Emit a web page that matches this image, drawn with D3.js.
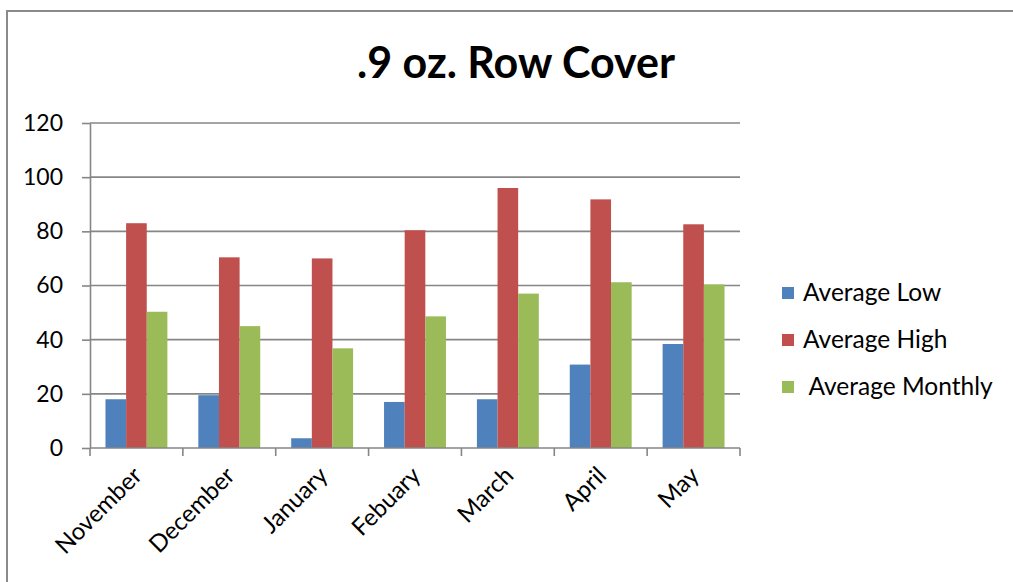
<!DOCTYPE html>
<html>
<head>
<meta charset="utf-8">
<script src="https://cdn.jsdelivr.net/npm/d3@7"></script>
<style>
  html, body { margin: 0; padding: 0; background: #fff; }
  svg { display: block; }
  text { font-family: Lato, "Open Sans", sans-serif; fill: #000; }
</style>
</head>
<body>
<svg id="chart" width="1013" height="582"></svg>
<script>
// Row cover temperature readings by month
const months = ["November", "December", "January", "Febuary", "March", "April", "May"];
const seriesNames = ["Average Low", "Average High", " Average Monthly"];
const averageLow = [18, 19.5, 3.6, 17, 18, 30.8, 38.4];
const averageHigh = [83, 70.4, 70, 80.4, 96, 91.8, 82.6];
const averageMonthly = [50.3, 45, 36.8, 48.6, 57, 61.2, 60.4];
const yTicks = [0, 20, 40, 60, 80, 100, 120];
const colors = ["#4F81BD", "#C0504D", "#9BBB59"];

const seriesValues = [averageLow, averageHigh, averageMonthly];
const rows = months.map((m, i) => ({
  month: m,
  values: seriesValues.map((vals, s) => ({ key: s, value: vals[i] }))
}));

const svg = d3.select("#chart");
const margin = { left: 90, right: 273, top: 123, bottom: 134 };
const W = 1013, H = 582;
const plotW = W - margin.left - margin.right;
const plotH = H - margin.top - margin.bottom;
const axisColor = "#868686";

// Outer chart frame
svg.append("path")
  .attr("d", `M7,${H + 5} L7,11 L${W + 5},11`)
  .attr("fill", "none")
  .attr("stroke", "#8a8a8a")
  .attr("stroke-width", 2);

// Title
svg.append("text")
  .attr("x", 516)
  .attr("y", 78)
  .attr("text-anchor", "middle")
  .style("font-size", "43px")
  .style("font-weight", "bold")
  .text(".9 oz. Row Cover");

const g = svg.append("g").attr("transform", `translate(${margin.left},${margin.top})`);

const x0 = d3.scaleBand().domain(months).range([0, plotW])
  .paddingInner(1 / 3).paddingOuter(1 / 6);
const x1 = d3.scaleBand().domain([0, 1, 2]).range([0, x0.bandwidth()]);
const y = d3.scaleLinear().domain([0, 120]).range([plotH, 0]);

// Horizontal gridlines
g.append("g")
  .selectAll("line")
  .data(yTicks.filter(t => t > 0))
  .join("line")
  .attr("x1", 0).attr("x2", plotW)
  .attr("y1", d => y(d)).attr("y2", d => y(d))
  .attr("stroke", axisColor)
  .attr("stroke-width", 1.6);

// Bars
g.append("g")
  .selectAll("g")
  .data(rows)
  .join("g")
  .attr("transform", d => `translate(${x0(d.month)},0)`)
  .selectAll("rect")
  .data(d => d.values)
  .join("rect")
  .attr("x", d => x1(d.key))
  .attr("width", x1.bandwidth())
  .attr("y", d => y(d.value))
  .attr("height", d => plotH - y(d.value))
  .attr("fill", d => colors[d.key]);

// Y axis
const yAxis = g.append("g")
  .call(d3.axisLeft(y).tickValues(yTicks).tickSize(8).tickPadding(19).tickSizeOuter(0));
yAxis.select(".domain").attr("stroke", axisColor).attr("stroke-width", 1.6);
yAxis.selectAll(".tick line").attr("stroke", axisColor).attr("stroke-width", 1.6);
yAxis.selectAll(".tick text")
  .style("font-size", "23px")
  .style("font-family", "Lato, sans-serif")
  .attr("fill", "#000");

// X axis with ticks at category boundaries
const step = x0.step();
const boundaries = d3.range(months.length + 1).map(i => i * step);
const xAxisG = g.append("g").attr("transform", `translate(0,${plotH})`);
xAxisG.append("line")
  .attr("x1", 0).attr("x2", plotW)
  .attr("stroke", axisColor).attr("stroke-width", 1.6);
xAxisG.selectAll(".bt")
  .data(boundaries)
  .join("line")
  .attr("class", "bt")
  .attr("x1", d => d).attr("x2", d => d)
  .attr("y1", 0).attr("y2", 8)
  .attr("stroke", axisColor).attr("stroke-width", 1.6);

xAxisG.selectAll(".ml")
  .data(months)
  .join("text")
  .attr("class", "ml")
  .attr("text-anchor", "end")
  .attr("transform", d => `translate(${x0(d) + x0.bandwidth() / 2 + 7},${29}) rotate(-45)`)
  .style("font-size", "24px")
  .text(d => d);

// Legend
const legend = svg.append("g").attr("transform", "translate(782,293)");
const items = legend.selectAll("g")
  .data(seriesNames)
  .join("g")
  .attr("transform", (d, i) => `translate(0,${i * 47})`);
items.append("rect")
  .attr("x", 0).attr("y", -6)
  .attr("width", 12).attr("height", 12)
  .attr("fill", (d, i) => colors[i]);
items.append("text")
  .attr("x", 21).attr("y", 8)
  .style("font-size", "24.5px")
  .style("white-space", "pre")
  .text(d => d);
</script>
</body>
</html>
